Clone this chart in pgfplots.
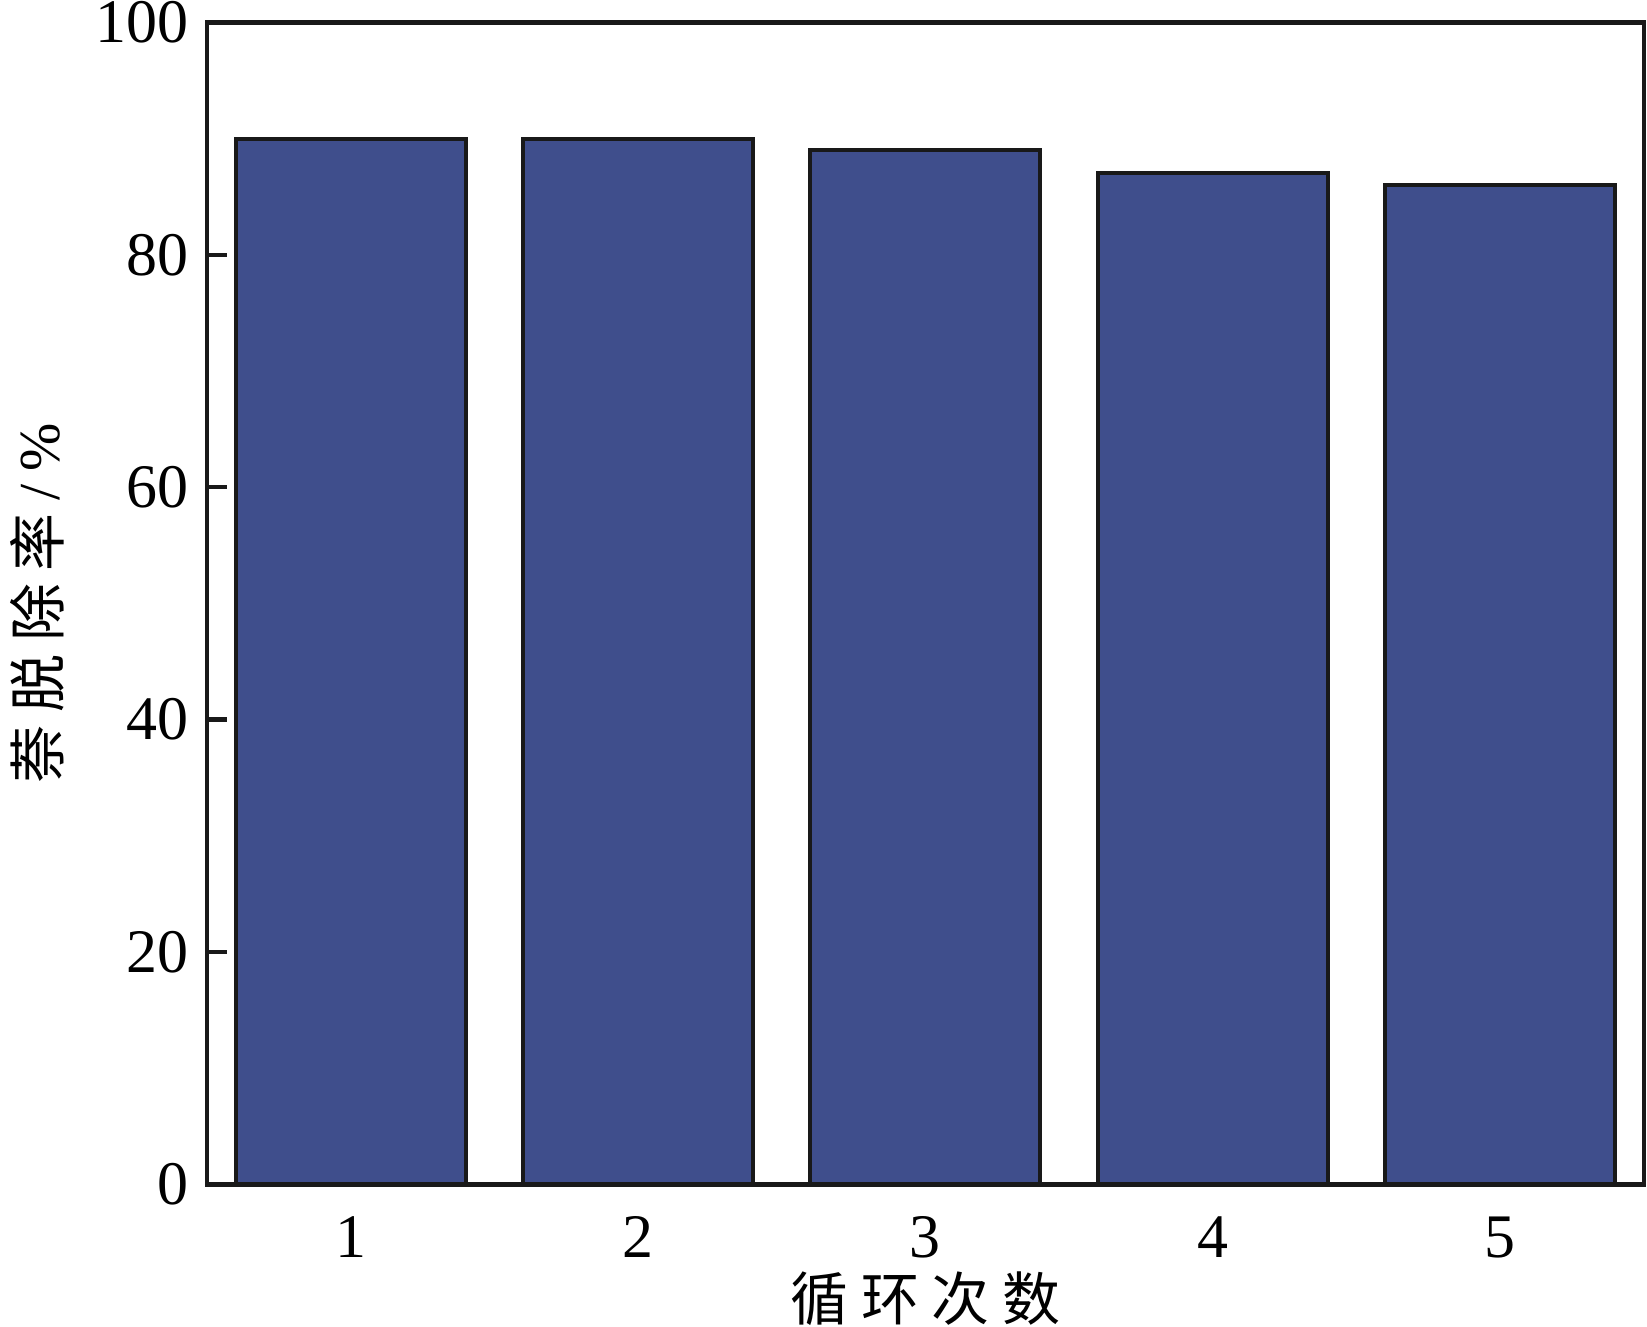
\documentclass[border=0pt]{standalone}
\usepackage{pgfplots}
\pgfplotsset{compat=1.18}
\usepackage{fontspec}
\setmainfont{Liberation Serif}
\newfontfamily\cjk{Noto Sans CJK SC}
\definecolor{barblue}{HTML}{3F4E8C}
\newcommand{\gap}{\hspace{3.2pt}}
\begin{document}
\begin{tikzpicture}
    \begin{axis}[
        scale only axis,
        width=359.5pt, height=290.75pt,
        xmin=0.5, xmax=5.5, ymin=0, ymax=100,
        xtick={1,2,3,4,5}, ytick={0,20,40,60,80,100},
        major x tick style={draw=none},
        ytick pos=left, tick align=inside,
        major tick length=5pt,
        axis line style={line width=1.1pt, black!90},
        tick style={line width=1.1pt, black!90},
        ticklabel style={font=\fontsize{15.5}{17}\selectfont},
        /pgf/number format/assume math mode=true,
        xticklabel style={yshift=-4.5pt},
        yticklabel style={xshift=-1pt},
        xlabel={\cjk\fontsize{14.5}{16}\selectfont 循\gap 环\gap 次\gap 数},
        ylabel={\cjk\fontsize{14.5}{16}\selectfont 萘\gap 脱\gap 除\gap 率\gap\rmfamily /\gap\%},
        xlabel style={yshift=3.5pt},
        ylabel style={yshift=1pt},
    ]
    \addplot[ybar, bar width=0.8, fill=barblue, draw=black!90, line width=1pt]
        coordinates {(1,90) (2,90) (3,89) (4,87) (5,86)};
    \end{axis}
    % trim the page to the reference's margins round the axis
    \pgfresetboundingbox
    \path ([shift={(-51.8pt,-35.5pt)}]current axis.south west)
        rectangle ([shift={(0.8pt,5.6pt)}]current axis.north east);
\end{tikzpicture}
\end{document}
